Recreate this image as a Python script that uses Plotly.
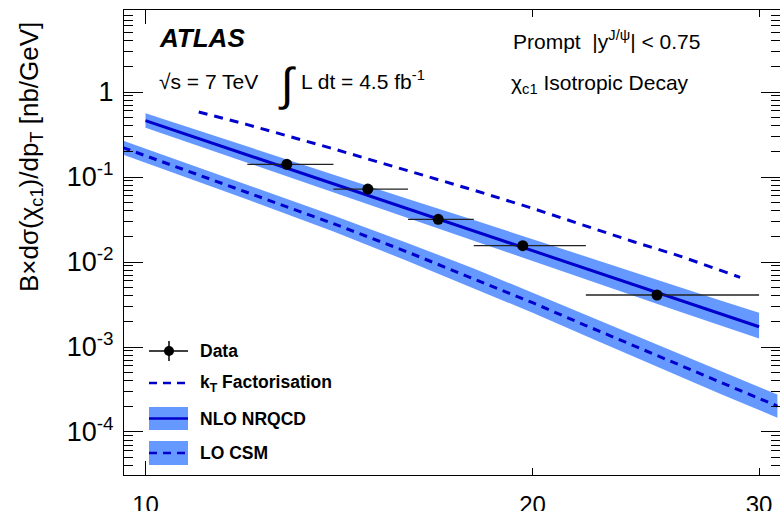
import plotly.graph_objects as go

# ---------------- data ----------------
pt_mean = [12.88, 14.89, 16.89, 19.65, 24.99]
pt_lo = [12, 14, 16, 18, 22]
pt_hi = [14, 16, 18, 22, 30]
xsec = [0.141, 0.0722, 0.0318, 0.01556, 0.00409]

nlo_pt = [10, 12, 14, 16, 18, 20, 22, 24, 26, 28, 30]
nlo_c = [0.460, 0.182, 0.0832, 0.0422, 0.0232, 0.01355, 0.00836, 0.00536, 0.00357, 0.00245, 0.00173]
nlo_up = [0.5615, 0.2272, 0.1061, 0.0553, 0.0312, 0.0185, 0.01156, 0.00748, 0.00508, 0.00353, 0.00253]
nlo_dn = [0.380, 0.1466, 0.0652, 0.0326, 0.01767, 0.01019, 0.00621, 0.00393, 0.00262, 0.00179, 0.00126]

lo_pt = [9.6, 10, 12, 14, 16, 18, 20, 22, 24, 26, 28, 30, 31]
lo_c = [0.2223, 0.1781, 0.0664, 0.0283, 0.01304, 0.00639, 0.00332, 0.00179, 0.001025, 0.000609, 0.000382, 0.000248, 0.000202]
lo_up = [0.2688, 0.2153, 0.0814, 0.03515, 0.01664, 0.00839, 0.00435, 0.00238, 0.001381, 0.000821, 0.000522, 0.000338, 0.000277]
lo_dn = [0.1839, 0.1473, 0.0542, 0.02279, 0.01022, 0.00488, 0.00253, 0.001347, 0.000761, 0.000452, 0.000280, 0.0001815, 0.000147]

kt_pt = [11, 12, 14, 16, 18, 20, 22, 24, 26, 28, 29]
kt_c = [0.583, 0.4135, 0.2147, 0.1196, 0.0701, 0.0428, 0.02673, 0.01719, 0.01183, 0.00794, 0.00661]

xtick_vals = [10, 20, 30]
xtick_text = ["10", "20", "30"]
ytick_vals = [1e-4, 1e-3, 1e-2, 1e-1, 1]
ytick_text = ["10<sup>-4</sup>", "10<sup>-3</sup>", "10<sup>-2</sup>", "10<sup>-1</sup>", "1"]
ytick_minor = [m * 10.0 ** e for e in range(-5, 1) for m in range(2, 10)]

legend_labels = ["Data", "k<sub>T</sub> Factorisation", "NLO NRQCD", "LO CSM"]

# ---------------- style ----------------
FONT = "Liberation Sans, Arial, Helvetica, sans-serif"
BAND = "#6699ff"
LINE = "#0000cc"
W, H = 780, 511
L, R, T, B = 124, 0, 10, 36
PW, PH = W - L - R, H - T - B


def px(x):
    return (x - L) / PW


def py(y):
    return (H - B - y) / PH


fig = go.Figure()

# LO CSM band
fig.add_trace(go.Scatter(x=lo_pt, y=lo_dn, mode="lines", line=dict(width=0, color=BAND),
                         hoverinfo="skip", showlegend=False))
fig.add_trace(go.Scatter(x=lo_pt, y=lo_up, mode="lines", line=dict(width=0, color=BAND),
                         fill="tonexty", fillcolor=BAND, hoverinfo="skip", showlegend=False))
# NLO NRQCD band
fig.add_trace(go.Scatter(x=nlo_pt, y=nlo_dn, mode="lines", line=dict(width=0, color=BAND),
                         hoverinfo="skip", showlegend=False))
fig.add_trace(go.Scatter(x=nlo_pt, y=nlo_up, mode="lines", line=dict(width=0, color=BAND),
                         fill="tonexty", fillcolor=BAND, hoverinfo="skip", showlegend=False))
# central lines
fig.add_trace(go.Scatter(x=lo_pt, y=lo_c, mode="lines", name="LO CSM",
                         line=dict(width=3, color=LINE, dash="8px,6px"), showlegend=False))
fig.add_trace(go.Scatter(x=nlo_pt, y=nlo_c, mode="lines", name="NLO NRQCD",
                         line=dict(width=3, color=LINE), showlegend=False))
fig.add_trace(go.Scatter(x=kt_pt, y=kt_c, mode="lines", name="kT Factorisation",
                         line=dict(width=3, color=LINE, dash="9px,7px"), showlegend=False))
# data
fig.add_trace(go.Scatter(
    x=pt_mean, y=xsec, mode="markers", name="Data",
    marker=dict(size=11, color="black"),
    error_x=dict(type="data", symmetric=False,
                 array=[h - m for h, m in zip(pt_hi, pt_mean)],
                 arrayminus=[m - l for m, l in zip(pt_mean, pt_lo)],
                 thickness=1.3, width=0, color="#222222"),
    showlegend=False))

shapes = []
# longer tick at x=10 (bottom and top)
x10 = px(145.5)
shapes.append(dict(type="line", xref="paper", yref="paper", x0=x10, x1=x10, y0=0, y1=14 / PH,
                   line=dict(color="black", width=1)))
shapes.append(dict(type="line", xref="paper", yref="paper", x0=x10, x1=x10, y0=1 - 14 / PH, y1=1,
                   line=dict(color="black", width=1)))

# manual legend
lx0, lx1 = 149, 188
# Data
shapes.append(dict(type="line", xref="paper", yref="paper", x0=px(lx0), x1=px(lx1), y0=py(351), y1=py(351),
                   line=dict(color="black", width=1.5)))
shapes.append(dict(type="line", xref="paper", yref="paper", x0=px(169), x1=px(169), y0=py(341), y1=py(361),
                   line=dict(color="black", width=1.5)))
shapes.append(dict(type="circle", xref="paper", yref="paper", x0=px(164), x1=px(174), y0=py(356), y1=py(346),
                   fillcolor="black", line=dict(color="black", width=0)))
# kT
shapes.append(dict(type="line", xref="paper", yref="paper", x0=px(lx0), x1=px(lx1), y0=py(383), y1=py(383),
                   line=dict(color=LINE, width=2.5, dash="8px,6px")))
# NLO
shapes.append(dict(type="rect", xref="paper", yref="paper", x0=px(lx0), x1=px(lx1), y0=py(430), y1=py(407),
                   fillcolor=BAND, line=dict(width=0)))
shapes.append(dict(type="line", xref="paper", yref="paper", x0=px(lx0), x1=px(lx1), y0=py(418.5), y1=py(418.5),
                   line=dict(color=LINE, width=2.5)))
# LO
shapes.append(dict(type="rect", xref="paper", yref="paper", x0=px(lx0), x1=px(lx1), y0=py(465), y1=py(441),
                   fillcolor=BAND, line=dict(width=0)))
shapes.append(dict(type="line", xref="paper", yref="paper", x0=px(lx0), x1=px(lx1), y0=py(453), y1=py(453),
                   line=dict(color=LINE, width=2.5, dash="8px,6px")))

annotations = []


def ann(text, x, y, size, xanchor="left", yanchor="middle", angle=0):
    annotations.append(dict(text=text, x=px(x), y=py(y), xref="paper", yref="paper",
                            xanchor=xanchor, yanchor=yanchor, showarrow=False, textangle=angle,
                            font=dict(family=FONT, size=size, color="black")))


for lab, yy in zip(legend_labels, [351, 383, 418.5, 453]):
    ann("<b>" + lab + "</b>", 198, yy, 17.5)

ann("<b><i>ATLAS</i></b>", 157, 38, 26)
ann("√s = 7 TeV", 157, 81, 21)
ann("∫", 276, 84, 46)
ann("L dt = 4.5 fb<sup>-1</sup>", 299, 80, 21)
ann("Prompt  |y<sup>J/ψ</sup>| < 0.75", 511, 40, 21)
ann("χ<sub>c1</sub> Isotropic Decay", 509, 84, 21)
ann("B×dσ(χ<sub>c1</sub>)/dp<sub>T</sub> [nb/GeV]", 30, 157, 26, xanchor="center", angle=-90)

fig.update_layout(
    width=W, height=H,
    margin=dict(l=L, r=R, t=T, b=B, pad=0, autoexpand=False),
    paper_bgcolor="white", plot_bgcolor="white",
    font=dict(family=FONT, color="black"),
    showlegend=False,
    shapes=shapes,
    annotations=annotations,
    xaxis=dict(type="log", range=[0.98328, 1.4934], showline=True, linecolor="black", linewidth=1,
               mirror="ticks", ticks="inside", ticklen=7, tickwidth=1, tickcolor="black",
               tickmode="array", tickvals=xtick_vals, ticktext=xtick_text,
               tickfont=dict(size=24, family=FONT, color="black"), automargin=False,
               showgrid=False, zeroline=False, ticklabelstandoff=8),
    yaxis=dict(type="log", range=[-4.506, 0.965], showline=True, linecolor="black", linewidth=1,
               mirror="ticks", ticks="inside", ticklen=19, tickwidth=1, tickcolor="black",
               tickmode="array", tickvals=ytick_vals, ticktext=ytick_text,
               tickfont=dict(size=27, family=FONT, color="black"), automargin=False,
               minor=dict(tickmode="array", tickvals=ytick_minor, ticks="inside", ticklen=9,
                          tickwidth=1, tickcolor="black", showgrid=False),
               showgrid=False, zeroline=False, ticklabelstandoff=4),
)

fig.write_html("out.html")
